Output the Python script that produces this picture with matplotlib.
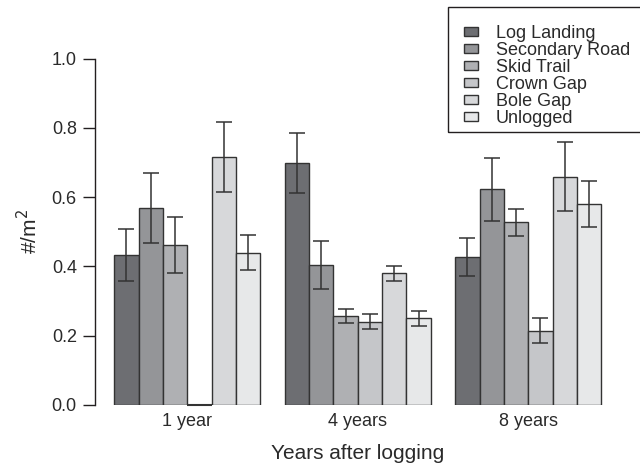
import matplotlib
matplotlib.use('Agg')
import matplotlib.pyplot as plt
from matplotlib.patches import Rectangle
import numpy as np

plt.rcParams['font.family'] = ['Liberation Sans', 'DejaVu Sans']

years = ['1 year', '4 years', '8 years']
sites = ['Log Landing', 'Secondary Road', 'Skid Trail', 'Crown Gap', 'Bole Gap', 'Unlogged']
colors = ['#6d6e72', '#949598', '#afb0b3', '#c5c6c9', '#d7d8da', '#e7e8e9']

# density (#/m2), one list per site: 1, 4, 8 years
means = {
    'Log Landing':    [0.433, 0.699, 0.426],
    'Secondary Road': [0.569, 0.404, 0.622],
    'Skid Trail':     [0.462, 0.257, 0.527],
    'Crown Gap':      [0.0,   0.240, 0.214],
    'Bole Gap':       [0.717, 0.380, 0.659],
    'Unlogged':       [0.440, 0.250, 0.580],
}
errs = {
    'Log Landing':    [0.075, 0.086, 0.055],
    'Secondary Road': [0.101, 0.070, 0.090],
    'Skid Trail':     [0.082, 0.019, 0.040],
    'Crown Gap':      [np.nan, 0.022, 0.036],
    'Bole Gap':       [0.101, 0.021, 0.099],
    'Unlogged':       [0.051, 0.022, 0.067],
}

ink = '#231f20'
fig = plt.figure(figsize=(6.4, 4.7), dpi=100)
ax = fig.add_axes([0.1481, 0.1383, 0.8219, 0.7372])

n = len(sites)
group_start = np.arange(len(years)) * (n + 1) + 1
for i, s in enumerate(sites):
    x = group_start + i + 0.5
    ax.bar(x, means[s], width=1, color=colors[i], edgecolor='#333333',
           linewidth=1.0, label=s, zorder=2)
    ax.errorbar(x, means[s], yerr=errs[s], fmt='none', ecolor='#333333',
                elinewidth=1.1, capsize=6, capthick=1.1, zorder=3)

# zero-height bars still show their outline as a line on the baseline
for i, s in enumerate(sites):
    for g, v in enumerate(means[s]):
        if v == 0:
            x0 = group_start[g] + i
            ax.plot([x0, x0 + 1], [0, 0], color='#333333', lw=1.5,
                    solid_capstyle='butt', zorder=3, clip_on=False)

ax.set_xlim(0.2, 21.8)
ax.set_ylim(0, 1.0)
ax.set_yticks([0.0, 0.2, 0.4, 0.6, 0.8, 1.0])
ax.set_yticklabels(['0.0', '0.2', '0.4', '0.6', '0.8', '1.0'])
ax.set_xticks(group_start + n / 2)
ax.set_xticklabels(years)

for sp in ['top', 'right', 'bottom']:
    ax.spines[sp].set_visible(False)
ax.spines['left'].set_bounds(0, 1.0)
ax.spines['left'].set_color(ink)
ax.spines['left'].set_linewidth(1.0)

ax.tick_params(axis='y', direction='out', length=8.4, width=1.0, color=ink,
               labelsize=13, labelcolor='#2a2a2a', pad=4.5)
ax.tick_params(axis='x', length=0, labelsize=13, labelcolor='#2a2a2a', pad=6)

ax.set_xlabel('Years after logging', fontsize=15, color='#2a2a2a')
ax.xaxis.set_label_coords(0.5, -0.112)
ax.set_ylabel('#/m$^2$', fontsize=15, color='#2a2a2a')
ax.yaxis.set_label_coords(-0.102, 0.5)

# legend entries without frame; the box is drawn separately (runs off the right edge)
leg = fig.legend(loc='upper left', bbox_to_anchor=(448.3 / 640, 1 - 10 / 470),
                 borderaxespad=0, fontsize=13, frameon=False,
                 handlelength=0.78, handleheight=0.39, handletextpad=1.0,
                 borderpad=0.85, labelspacing=0.0)
for t in leg.get_texts():
    t.set_color('#2a2a2a')
fig.patches.append(Rectangle((448.3 / 640, 1 - 131.7 / 470), 0.32, 125 / 470,
                             transform=fig.transFigure, fill=False,
                             edgecolor=ink, linewidth=1.0))

fig.savefig('out.png', dpi=100)
